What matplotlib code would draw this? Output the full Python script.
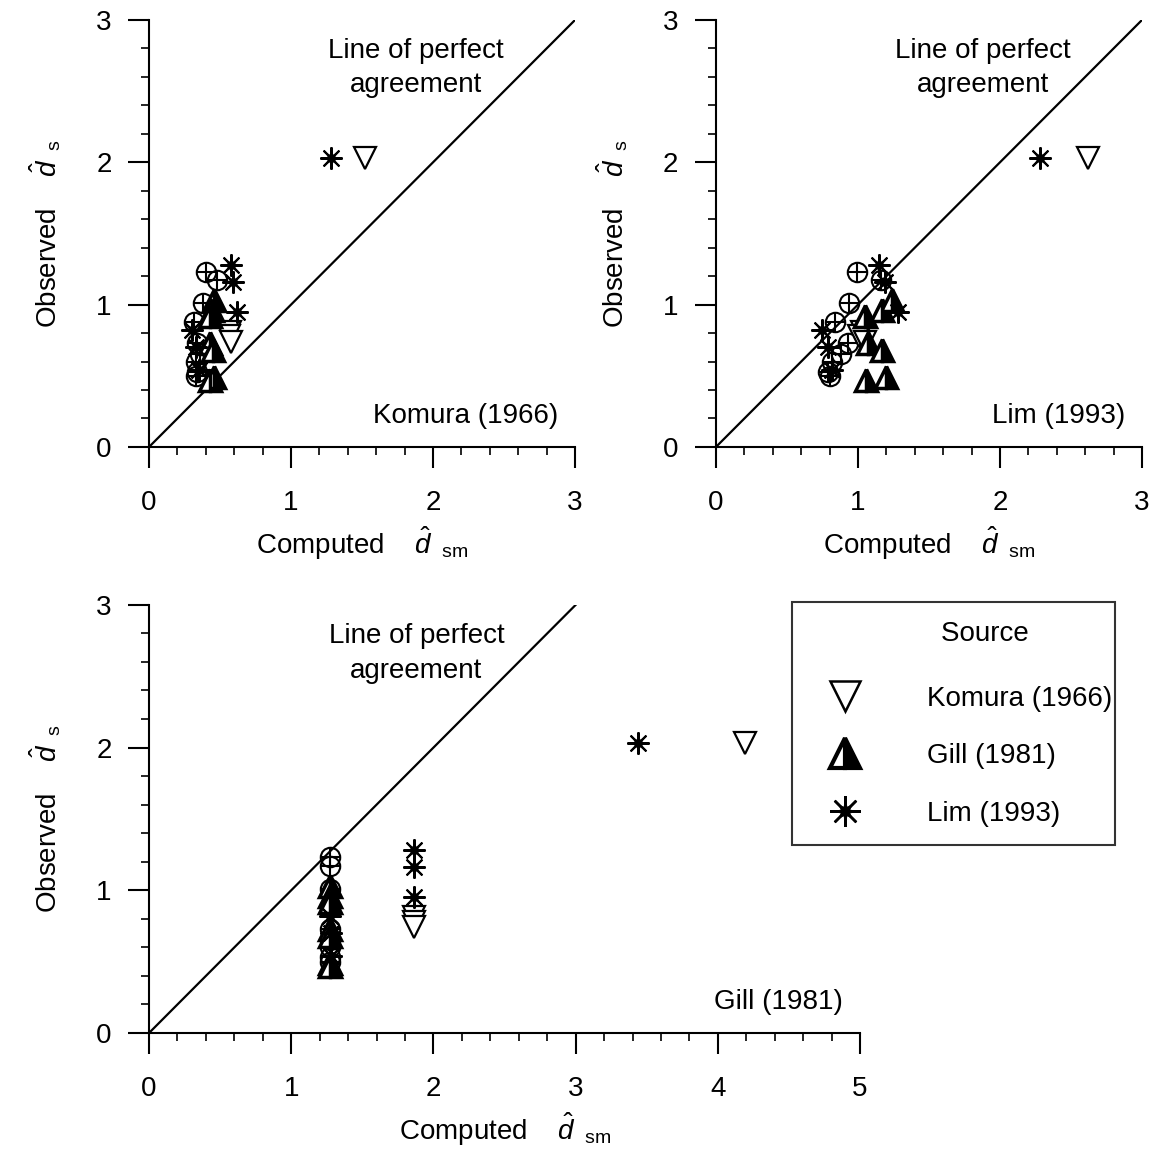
import matplotlib
matplotlib.use("Agg")
import matplotlib.pyplot as plt
from matplotlib.lines import Line2D
from matplotlib.ticker import MultipleLocator

plt.rcParams["font.family"] = ["Liberation Sans", "DejaVu Sans"]
plt.rcParams["mathtext.fontset"] = "custom"
plt.rcParams["mathtext.rm"] = "Liberation Sans"
plt.rcParams["mathtext.it"] = "Liberation Sans:italic"
plt.rcParams["font.size"] = 20

# Observed values (same in every panel)
circ_obs = [1.23, 1.17, 1.01, 0.88, 0.73, 0.65, 0.60, 0.53, 0.50]
komura_obs = [2.03, 0.81, 0.78, 0.74]
gill_obs = [1.03, 0.96, 0.92, 0.73, 0.68, 0.49, 0.47]
lim_obs = [2.03, 1.28, 1.16, 0.95, 0.82, 0.70, 0.54]

# Computed values by the Komura (1966) method
circ_komura = [0.40, 0.48, 0.38, 0.32, 0.34, 0.36, 0.33, 0.34, 0.33]
komura_komura = [1.52, 0.57, 0.56, 0.58]
gill_komura = [0.46, 0.44, 0.43, 0.43, 0.45, 0.46, 0.43]
lim_komura = [1.28, 0.58, 0.59, 0.62, 0.30, 0.33, 0.35]

# Computed values by the Lim (1993) method
circ_lim = [0.99, 1.16, 0.94, 0.84, 0.93, 0.88, 0.82, 0.79, 0.80]
komura_lim = [2.62, 1.03, 1.01, 1.05]
gill_lim = [1.24, 1.17, 1.05, 1.07, 1.17, 1.20, 1.06]
lim_lim = [2.28, 1.15, 1.19, 1.28, 0.75, 0.79, 0.82]

# Computed values by the Gill (1981) method
circ_gill = [1.27, 1.27, 1.27, 1.27, 1.27, 1.27, 1.27, 1.27, 1.27]
komura_gill = [4.19, 1.86, 1.86, 1.86]
gill_gill = [1.27, 1.27, 1.27, 1.27, 1.27, 1.27, 1.27]
lim_gill = [3.44, 1.86, 1.86, 1.86, 1.27, 1.28, 1.28]

xlabel = r"Computed    $\hat{d}_{\ \ \mathrm{sm}}$"
ylabel = r"Observed    $\hat{d}_{\ \ \mathrm{s}}$"


def draw_panel(ax, xmax, circ_x, kom_x, gill_x, lim_x, tag):
    ax.plot([0, 3], [0, 3], color="black", lw=1.6, zorder=1)
    ax.plot(circ_x, circ_obs, "o", ms=14, mfc="none", mec="black", mew=1.5, ls="none")
    ax.plot(circ_x, circ_obs, "+", ms=14, mec="black", mew=1.5, ls="none")
    ax.plot(kom_x, komura_obs, "v", ms=16, mfc="white", mec="black", mew=1.6, ls="none")
    ax.plot(gill_x, gill_obs, "^", ms=16, fillstyle="right", mfc="black",
            markerfacecoloralt="white", mec="black", mew=2.5, ls="none")
    ax.plot(lim_x, lim_obs, marker=(8, 2, 0), ms=16, mec="black", mew=1.5, ls="none")
    ax.plot(lim_x, lim_obs, marker=(8, 1, 0), ms=9, color="black", ls="none")

    ax.text(1.88, 2.78, "Line of perfect", ha="center", va="center")
    ax.text(1.88, 2.54, "agreement", ha="center", va="center")
    ax.text(xmax - 0.12, 0.22, tag, ha="right", va="center")

    ax.set_xlim(0, xmax)
    ax.set_ylim(0, 3)
    ax.xaxis.set_major_locator(MultipleLocator(1))
    ax.xaxis.set_minor_locator(MultipleLocator(0.2))
    ax.yaxis.set_major_locator(MultipleLocator(1))
    ax.yaxis.set_minor_locator(MultipleLocator(0.2))
    ax.spines["top"].set_visible(False)
    ax.spines["right"].set_visible(False)
    for s in ["left", "bottom"]:
        ax.spines[s].set_linewidth(1.5)
    ax.tick_params(which="major", direction="out", length=15, width=1.5, pad=12)
    ax.tick_params(axis="x", which="major", pad=16)
    ax.tick_params(which="minor", direction="out", length=6, width=1.2)
    ax.set_xlabel(xlabel, labelpad=6)
    ax.set_ylabel(ylabel, labelpad=24)


fig = plt.figure(figsize=(11.5, 11.57), dpi=100)

ax1 = fig.add_axes([0.1296, 0.6137, 0.3704, 0.369])
ax2 = fig.add_axes([0.6226, 0.6137, 0.3704, 0.369])
ax3 = fig.add_axes([0.1296, 0.1072, 0.6183, 0.370])

draw_panel(ax1, 3, circ_komura, komura_komura, gill_komura, lim_komura, "Komura (1966)")
draw_panel(ax2, 3, circ_lim, komura_lim, gill_lim, lim_lim, "Lim (1993)")
draw_panel(ax3, 5, circ_gill, komura_gill, gill_gill, lim_gill, "Gill (1981)")

# Legend
h_kom = Line2D([], [], marker="v", ms=21, mfc="white", mec="black", mew=1.8, ls="none")
h_gill = Line2D([], [], marker="^", ms=21, fillstyle="right", mfc="black",
                markerfacecoloralt="white", mec="black", mew=3, ls="none")
h_lim1 = Line2D([], [], marker=(8, 2, 0), ms=22, mec="black", mew=1.8, ls="none")
h_lim2 = Line2D([], [], marker=(8, 1, 0), ms=12, color="black", ls="none")

leg = fig.legend([h_kom, h_gill, (h_lim1, h_lim2)],
                 ["Komura (1966)", "Gill (1981)", "Lim (1993)"],
                 title="        Source", loc="upper left",
                 bbox_to_anchor=(0.6887, 0.4797, 0.281, 0.0), mode="expand",
                 frameon=True, fancybox=False, edgecolor="black",
                 handlelength=2.44, handletextpad=1.73, borderpad=0.68,
                 labelspacing=1.13, borderaxespad=0, fontsize=20,
                 title_fontsize=20)
leg.get_frame().set_linewidth(1.5)
leg._legend_box.sep = 28

plt.savefig("out.png", dpi=100)
